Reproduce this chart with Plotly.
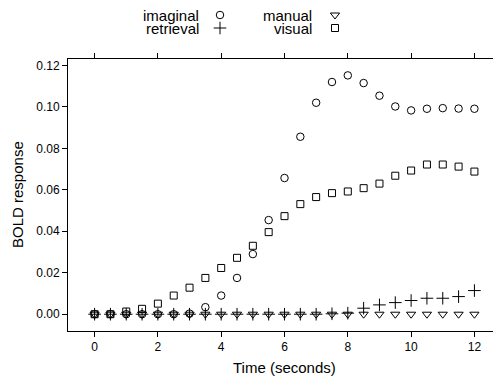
import plotly.graph_objects as go

# ---- data ----
time = [0, 0.5, 1, 1.5, 2, 2.5, 3, 3.5, 4, 4.5, 5, 5.5, 6, 6.5, 7, 7.5, 8,
        8.5, 9, 9.5, 10, 10.5, 11, 11.5, 12]
categories = ["imaginal", "manual", "retrieval", "visual"]
imaginal = [0, 0, 0, 0, 0, 0, 0.0003, 0.0034, 0.009, 0.0175, 0.029, 0.0454,
            0.0657, 0.0856, 0.102, 0.112, 0.1152, 0.1115, 0.1054, 0.1002,
            0.0983, 0.0991, 0.0994, 0.0992, 0.0991]
manual = [0] * 25
retrieval = [0, 0, 0, 0, 0, 0, 0, 0, 0, 0, 0, 0, 0, 0, 0, 0.0002, 0.0005,
             0.0029, 0.0045, 0.0056, 0.0066, 0.0077, 0.0077, 0.0085, 0.0114]
visual = [0, 0, 0.0013, 0.0026, 0.0051, 0.009, 0.0128, 0.0175, 0.0223, 0.0272,
          0.033, 0.0396, 0.0473, 0.0531, 0.0565, 0.0584, 0.0592, 0.0608,
          0.063, 0.0668, 0.0693, 0.0722, 0.0722, 0.0712, 0.0688]
x_ticks = [0, 2, 4, 6, 8, 10, 12]
y_ticks = [0.00, 0.02, 0.04, 0.06, 0.08, 0.10, 0.12]

series = [imaginal, manual, retrieval, visual]
symbols = ["circle-open", "triangle-down-open", "cross-thin-open", "square-open"]
sizes = [7.5, 8, 9, 7]

# page body has an 8px margin; figure is sized to fit the 501x377 window
OFF = 8
W, H = 501 - OFF, 377 - OFF
FONT = "Liberation Sans, Arial, Helvetica, sans-serif"
B = 46
paper_h = H - B
left_px, top_px = 68 - OFF, 59 - OFF

fig = go.Figure()
for name, vals, sym, sz in zip(categories, series, symbols, sizes):
    fig.add_trace(go.Scatter(
        x=time, y=vals, mode="markers", name=name, showlegend=False,
        marker=dict(symbol=sym, size=sz, color="black",
                    line=dict(color="black", width=1)),
        xaxis="x", yaxis="y"))

# key drawn on a hidden axis in pixel space
key_pos = {"imaginal": (220, 15, 201), "manual": (335, 15, 314),
           "retrieval": (220, 28, 201), "visual": (335, 28, 314)}
for name, sym, sz in zip(categories, symbols, sizes):
    mx, my, tx = key_pos[name]
    fig.add_trace(go.Scatter(
        x=[mx - OFF], y=[my - OFF], mode="markers", showlegend=False,
        hoverinfo="skip",
        marker=dict(symbol=sym, size=sz, color="black",
                    line=dict(color="black", width=1)),
        xaxis="x2", yaxis="y2"))
    fig.add_annotation(x=tx - OFF, y=my - OFF, xref="x2", yref="y2", text=name,
                       showarrow=False, xanchor="right", yanchor="middle",
                       font=dict(family=FONT, size=15, color="black"))

axis_common = dict(showgrid=False, zeroline=False, showline=True,
                   linecolor="black", linewidth=1, ticks="outside",
                   ticklen=5, tickcolor="black", tickwidth=1,
                   tickfont=dict(family=FONT, size=12, color="black"))

fig.update_layout(
    width=W, height=H,
    margin=dict(l=0, r=0, t=0, b=B),
    paper_bgcolor="white", plot_bgcolor="rgba(0,0,0,0)",
    xaxis=dict(domain=[left_px / W, 1], range=[-0.84, 12.84], tickvals=x_ticks,
               ticktext=[str(v) for v in x_ticks], mirror="ticks",
               anchor="y", **axis_common),
    yaxis=dict(domain=[0, (paper_h - top_px) / paper_h],
               range=[-0.0081, 0.1231],
               tickvals=y_ticks, ticktext=["%.2f" % v for v in y_ticks],
               anchor="x", **axis_common),
    xaxis2=dict(domain=[0, 1], range=[0, W], visible=False, anchor="y2"),
    yaxis2=dict(domain=[0, 1], range=[paper_h, 0], visible=False,
                anchor="x2"),
    showlegend=False,
)

fig.add_annotation(x=(left_px + W) / 2 / W, y=(paper_h - (367 - OFF)) / paper_h,
                   xref="paper", yref="paper", text="Time (seconds)",
                   showarrow=False, xanchor="center", yanchor="middle",
                   font=dict(family=FONT, size=15, color="black"))
fig.add_annotation(x=(17 - OFF) / W, y=(paper_h - (195 - OFF)) / paper_h,
                   xref="paper", yref="paper", text="BOLD response",
                   textangle=-90, showarrow=False, xanchor="center",
                   yanchor="middle",
                   font=dict(family=FONT, size=15, color="black"))

fig.write_html("out.html")
